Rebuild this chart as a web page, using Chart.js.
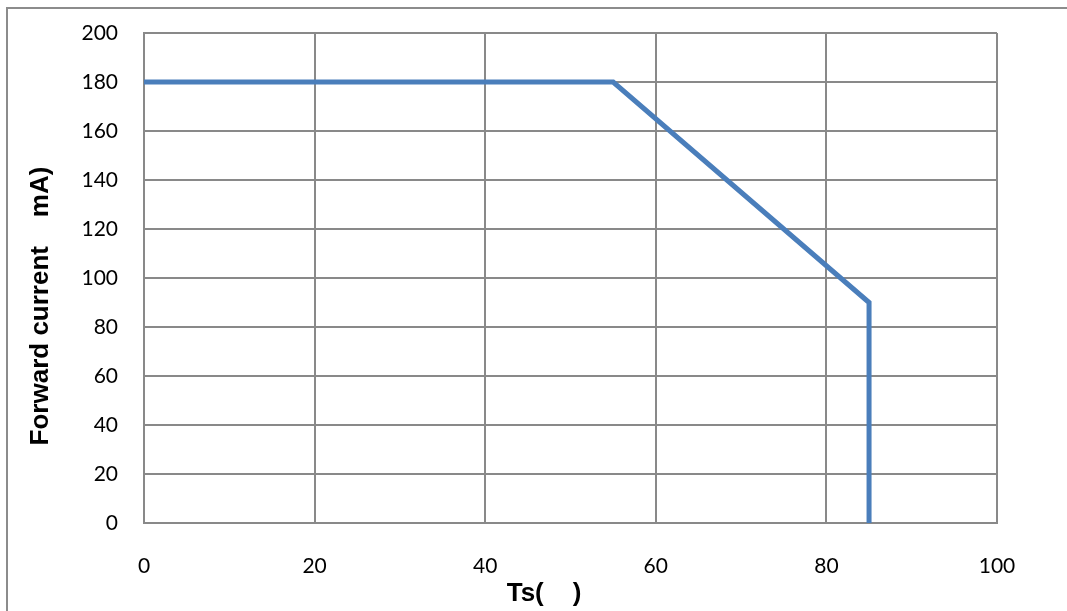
<!DOCTYPE html>
<html>
<head>
<meta charset="utf-8">
<script src="https://cdn.jsdelivr.net/npm/chart.js@4"></script>
<style>
  html, body { margin: 0; padding: 0; background: #fff; }
  #wrap { width: 1067px; height: 611px; }
</style>
</head>
<body>
<div id="wrap"><canvas id="myChart" width="1067" height="611"></canvas></div>
<script>
// temperature (Ts) vs allowed forward current
const tsValues = [0, 55, 85, 85];
const currentValues = [180, 180, 90, 0];
const xTicks = [0, 20, 40, 60, 80, 100];
const yTicks = [0, 20, 40, 60, 80, 100, 120, 140, 160, 180, 200];
const xTitle = 'Ts(    )';
const yTitle = 'Forward current    mA)';

const gridGray = '#898989';

// outer frame (top + left edges) and the two axis titles
const framePlugin = {
  id: 'frame',
  beforeDraw(chart) {
    const ctx = chart.ctx;
    ctx.save();
    ctx.strokeStyle = '#8c8c8c';
    ctx.lineWidth = 2;
    ctx.beginPath();
    ctx.moveTo(1067, 8);
    ctx.lineTo(7, 8);
    ctx.lineTo(7, 611);
    ctx.stroke();
    ctx.restore();
  },
  afterDraw(chart) {
    const ctx = chart.ctx;
    ctx.save();
    ctx.fillStyle = '#000';
    ctx.font = 'bold 26px "Liberation Sans", Arial, sans-serif';
    ctx.textAlign = 'center';
    ctx.textBaseline = 'middle';
    ctx.fillText(xTitle, 544, 594);
    ctx.translate(41, 306);
    ctx.rotate(-Math.PI / 2);
    ctx.fillText(yTitle, 0, 0);
    ctx.restore();
  }
};

const myCanvas = document.getElementById('myChart');

const myChart = new Chart(myCanvas, {
  type: 'scatter',
  data: {
    datasets: [{
      label: 'Forward current',
      data: tsValues.map((t, i) => ({ x: t, y: currentValues[i] })),
      showLine: true,
      borderColor: '#4a7ebb',
      borderWidth: 5,
      pointRadius: 0,
      tension: 0,
      fill: false
    }]
  },
  options: {
    responsive: false,
    animation: false,
    layout: { padding: { left: 0, top: 33, right: 70, bottom: 0 } },
    plugins: {
      legend: { display: false },
      tooltip: { enabled: false }
    },
    scales: {
      x: {
        type: 'linear',
        min: 0,
        max: 100,
        afterBuildTicks: s => { s.ticks = xTicks.map(v => ({ value: v })); },
        afterFit: s => { s.height = 88; s.paddingLeft = 0; s.paddingRight = 0; },
        grid: { color: gridGray, lineWidth: 2, drawTicks: false },
        border: { color: gridGray, width: 2 },
        ticks: {
          color: '#000',
          padding: 31,
          maxRotation: 0,
          font: { family: 'Lato', size: 21 }
        }
      },
      y: {
        type: 'linear',
        min: 0,
        max: 200,
        afterBuildTicks: s => { s.ticks = yTicks.map(v => ({ value: v })); },
        afterFit: s => { s.width = 144; s.paddingTop = 0; s.paddingBottom = 0; },
        grid: { color: gridGray, lineWidth: 2, drawTicks: false },
        border: { color: gridGray, width: 2 },
        ticks: {
          color: '#000',
          padding: 26,
          font: { family: 'Lato', size: 21 }
        }
      }
    }
  },
  plugins: [framePlugin]
});
</script>
</body>
</html>
